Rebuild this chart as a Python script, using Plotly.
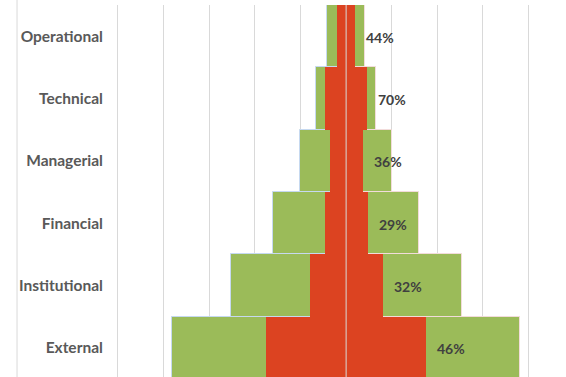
import plotly.graph_objects as go

categories = ["Operational", "Technical", "Managerial", "Financial", "Institutional", "External"]
total_values = [4.2, 6.5, 10.0, 16.0, 25.3, 38.2]      # green (outer) bar half-width
share_values = [1.9, 4.6, 3.6, 4.7, 8.0, 17.5]         # red (inner) bar half-width
pct_labels = ["44%", "70%", "36%", "29%", "32%", "46%"]

GREEN = "#9BBB59"
RED = "#DC4321"
GRID = "#D9D9D9"
FONT = "Lato"

fig = go.Figure()
fig.add_trace(go.Bar(y=categories, x=[-v for v in total_values], orientation="h",
                     marker=dict(color=GREEN, line=dict(color="#C6D9F0", width=1)),
                     showlegend=False, hoverinfo="skip"))
fig.add_trace(go.Bar(y=categories, x=total_values, orientation="h",
                     marker=dict(color=GREEN, line=dict(color="#F2DCDB", width=1)),
                     showlegend=False, hoverinfo="skip"))
fig.add_trace(go.Bar(y=categories, x=[-v for v in share_values], orientation="h",
                     marker=dict(color=RED, line=dict(width=0)),
                     showlegend=False, hoverinfo="skip"))
fig.add_trace(go.Bar(y=categories, x=share_values, orientation="h",
                     marker=dict(color=RED, line=dict(width=0)),
                     showlegend=False, hoverinfo="skip"))

for cat, v, lab in zip(categories, share_values, pct_labels):
    fig.add_annotation(x=v, y=cat, text=lab, showarrow=False, xanchor="left",
                       xshift=9, yshift=-1,
                       font=dict(family=FONT, size=14, color="#404040", weight="bold"))

# center axis line drawn above bars
fig.add_shape(type="line", xref="x", yref="paper", x0=0, x1=0, y0=0, y1=1,
              line=dict(color=GRID, width=1), layer="above")
# chart-area border at left
fig.add_shape(type="line", xref="paper", yref="paper", x0=-0.2254, x1=-0.2254, y0=-0.05, y1=1.05,
              line=dict(color=GRID, width=1), layer="above")

fig.update_layout(
    width=566, height=377,
    margin=dict(l=118, r=0, t=5, b=0),
    barmode="overlay", bargap=0,
    plot_bgcolor="white", paper_bgcolor="white",
    font=dict(family=FONT),
    xaxis=dict(range=[-50, 48.2], dtick=10, tick0=0, showgrid=True, gridcolor=GRID, gridwidth=1,
               zeroline=False, showticklabels=False, ticks="", fixedrange=True),
    yaxis=dict(categoryorder="array", categoryarray=categories, range=[5.47, -0.5],
               showgrid=False, showline=True, linecolor=GRID, linewidth=1, ticks="",
               ticklabelstandoff=11,
               tickfont=dict(family=FONT, size=15.5, color="#595959", weight="bold")),
)

fig.write_html("out.html")
